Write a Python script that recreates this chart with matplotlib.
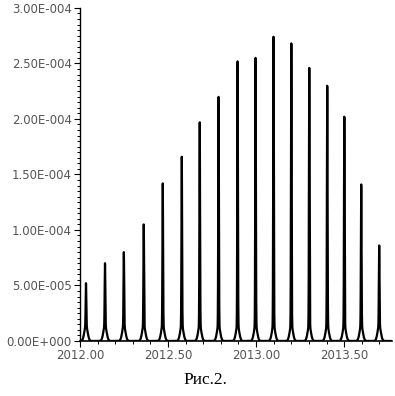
import numpy as np
import matplotlib
matplotlib.use("Agg")
import matplotlib.pyplot as plt
from matplotlib.ticker import MultipleLocator

# peak positions (axis units) and peak heights
centers = [2012.034, 2012.142, 2012.249, 2012.362, 2012.470, 2012.578,
           2012.680, 2012.787, 2012.895, 2012.997, 2013.099, 2013.200,
           2013.302, 2013.404, 2013.501, 2013.597, 2013.699]
heights = [0.52e-4, 0.70e-4, 0.80e-4, 1.05e-4, 1.42e-4, 1.66e-4,
           1.97e-4, 2.20e-4, 2.52e-4, 2.55e-4, 2.74e-4, 2.68e-4,
           2.46e-4, 2.30e-4, 2.02e-4, 1.41e-4, 0.86e-4]

yticks = [0, 0.5e-4, 1.0e-4, 1.5e-4, 2.0e-4, 2.5e-4, 3.0e-4]
ylabels = ["0.00E+000", "5.00E-005", "1.00E-004", "1.50E-004",
           "2.00E-004", "2.50E-004", "3.00E-004"]
xticks = [2012.0, 2012.5, 2013.0, 2013.5]
xlabels = ["2012.00", "2012.50", "2013.00", "2013.50"]

# line shape: narrow line on a small pedestal
s_line = 0.0018
s_ped = 0.009
ped = 0.14e-4

x = np.linspace(2011.99, 2013.78, 12000)
y = np.zeros_like(x)
for c, h in zip(centers, heights):
    y += (h - ped) * np.exp(-0.5 * ((x - c) / s_line)**2)
    y += ped * np.exp(-0.5 * ((x - c) / s_ped)**2)

fig = plt.figure(figsize=(3.95, 3.96), dpi=100)
ax = fig.add_axes([0.2025, 0.139, 0.79, 0.841])

ax.plot(x, y, color="black", lw=1.6)

ax.set_xlim(2012.0, 2013.772)
ax.set_ylim(0, 3.0e-4)

ax.spines["top"].set_visible(False)
ax.spines["right"].set_visible(False)
ax.spines["left"].set_linewidth(1.0)
ax.spines["bottom"].set_linewidth(1.2)

ax.set_yticks(yticks)
ax.set_yticklabels(ylabels)
ax.yaxis.set_minor_locator(MultipleLocator(0.5e-5))
ax.set_xticks(xticks)
ax.set_xticklabels(xlabels)
ax.xaxis.set_minor_locator(MultipleLocator(0.1))

ax.tick_params(axis="both", which="major", labelsize=8.5, length=4,
               width=0.8, colors="black", labelcolor="#555555", pad=2)
ax.tick_params(axis="both", which="minor", length=2.5, width=0.7)

fig.text(0.519, 0.04, "Рис.2.", ha="center", va="center",
         fontsize=12.5, family="Liberation Serif")

fig.savefig("out.png", dpi=100)
